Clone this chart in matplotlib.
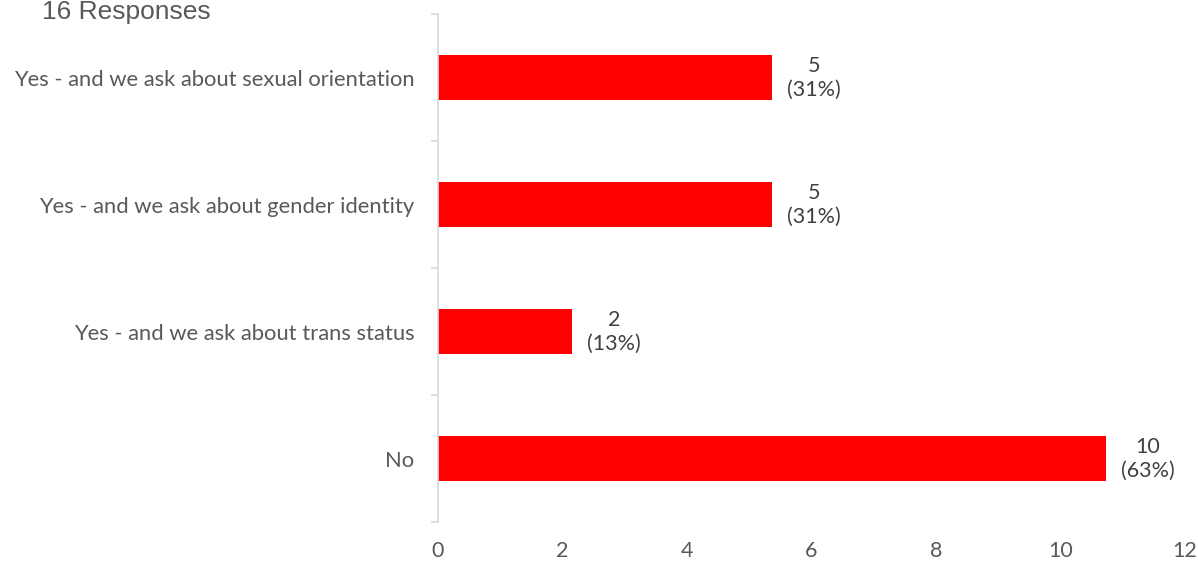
import matplotlib.pyplot as plt
import numpy as np

# Data
categories = ['Yes - and we ask about sexual orientation',
              'Yes - and we ask about gender identity',
              'Yes - and we ask about trans status',
              'No']
counts = [5, 5, 2, 10]
percents = [31, 31, 13, 63]
total_responses = 16
x_ticks = [0, 2, 4, 6, 8, 10, 12]

# the bars in the source run a bit past their tick values
BAR_SCALE = 1.073

TEXT = '#595959'
plt.rcParams['font.family'] = ['Lato', 'DejaVu Sans']

fig = plt.figure(figsize=(11.98, 5.63), dpi=100)
ax = fig.add_axes([0.3656, 0.0728, 0.6235, 0.9023])

y = np.arange(len(categories))
ax.barh(y, np.array(counts) * BAR_SCALE, height=0.355, color='#FF0000')
ax.set_ylim(len(categories) - 0.5, -0.5)
ax.set_xlim(0, x_ticks[-1])

for yi, c, p in zip(y, counts, percents):
    ax.annotate(f'{c}\n({p}%)', xy=(c * BAR_SCALE, yi), xytext=(11, 0),
                textcoords='offset points', ha='left', va='center',
                multialignment='center', fontsize=15.5, color='#404040',
                linespacing=1.25)

ax.set_yticks(y)
ax.set_yticklabels(categories, fontsize=15.8, color=TEXT)
ax.set_yticks(np.arange(-0.5, len(categories)), minor=True)
ax.tick_params(axis='y', which='major', length=0, pad=17)
ax.tick_params(axis='y', which='minor', length=5, color='#D9D9D9', width=1.2)

ax.set_xticks(x_ticks)
ax.set_xticklabels([str(t) for t in x_ticks], fontsize=15.5, color=TEXT)
ax.tick_params(axis='x', length=0, pad=14)

for s in ['top', 'right', 'bottom']:
    ax.spines[s].set_visible(False)
ax.spines['left'].set_color('#D9D9D9')
ax.spines['left'].set_linewidth(1.2)

fig.text(0.035, 1 - 12 / 563, f'{total_responses} Responses', fontsize=19,
         color=TEXT, family='Liberation Sans', ha='left', va='center')

fig.savefig('out.png', dpi=100)
